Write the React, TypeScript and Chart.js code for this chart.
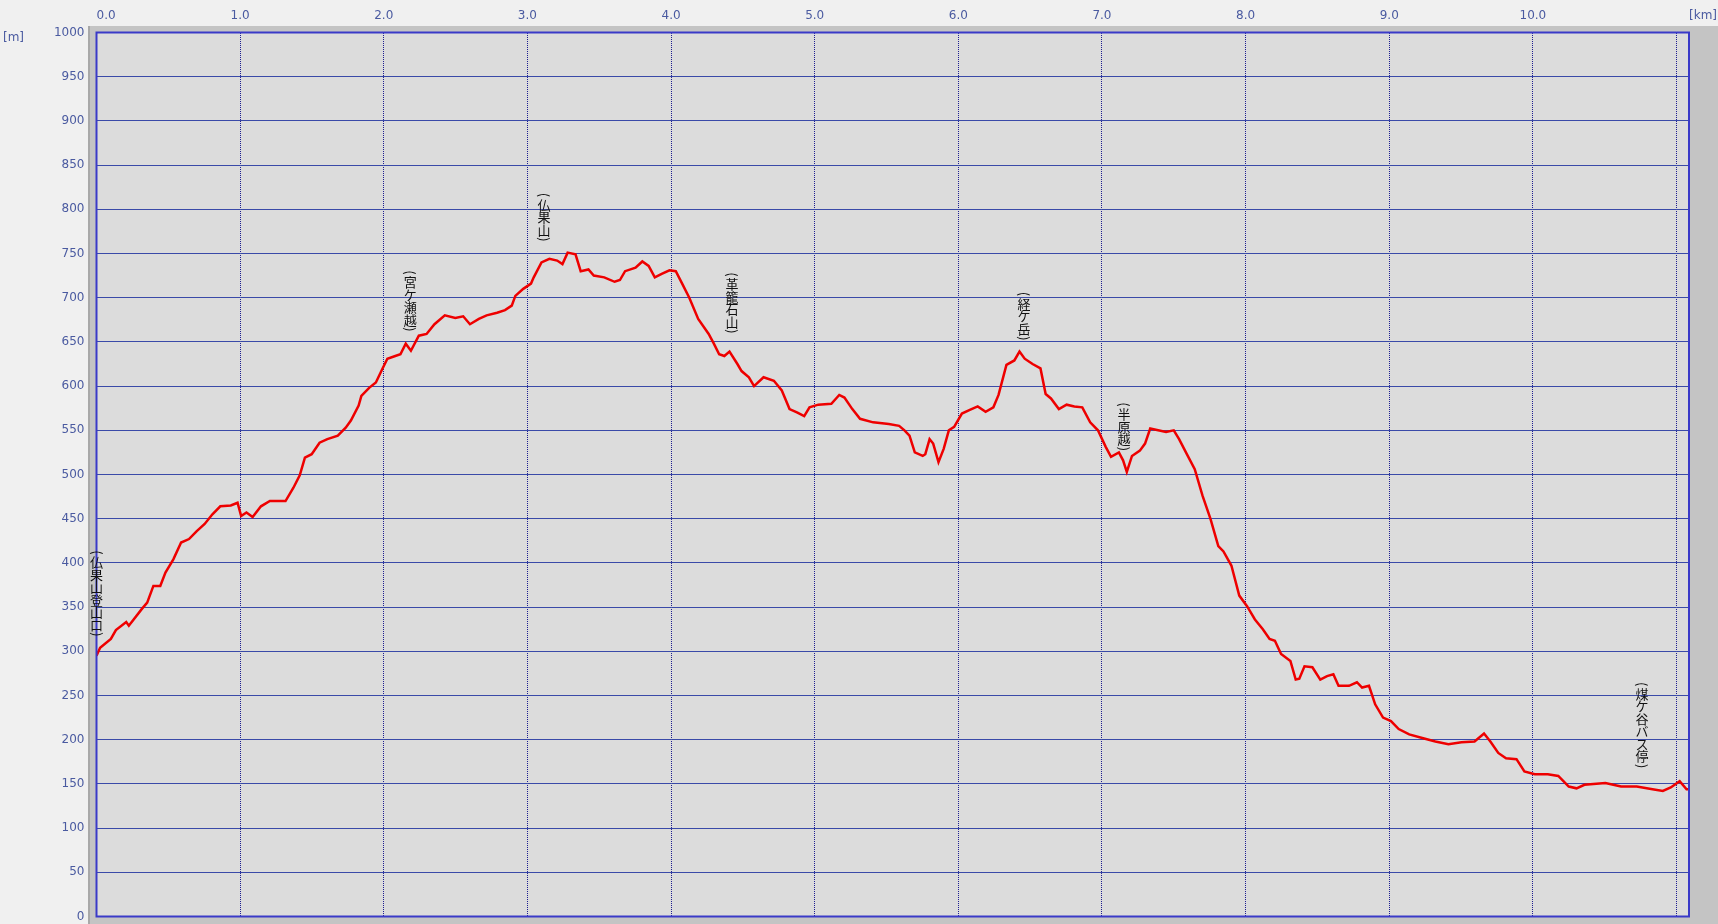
import React, { useEffect, useRef } from 'react';
import { Chart, registerables } from 'chart.js';

Chart.register(...registerables);

// Distance along the route [km]
const distanceKm = [
  0.0, 0.025, 0.1, 0.135, 0.207, 0.225, 0.316, 0.353, 0.396, 0.444, 0.48, 0.535, 0.589, 0.644, 0.698, 0.753,
  0.807, 0.862, 0.935, 0.982, 1.007, 1.044, 1.087, 1.145, 1.207, 1.316, 1.371, 1.415, 1.451, 1.498, 1.553,
  1.607, 1.68, 1.735, 1.771, 1.825, 1.844, 1.898, 1.945, 1.989, 2.025, 2.08, 2.116, 2.153, 2.189, 2.244,
  2.298, 2.353, 2.425, 2.498, 2.553, 2.6, 2.662, 2.716, 2.789, 2.844, 2.891, 2.916, 2.971, 3.025, 3.044,
  3.098, 3.153, 3.207, 3.244, 3.28, 3.335, 3.371, 3.425, 3.462, 3.535, 3.607, 3.644, 3.68, 3.753, 3.8,
  3.844, 3.887, 3.935, 3.989, 4.033, 4.08, 4.127, 4.189, 4.262, 4.298, 4.335, 4.371, 4.407, 4.462, 4.491,
  4.542, 4.578, 4.644, 4.716, 4.771, 4.825, 4.88, 4.927, 4.964, 5.025, 5.116, 5.171, 5.207, 5.262, 5.316,
  5.407, 5.516, 5.588, 5.625, 5.66, 5.697, 5.752, 5.77, 5.8, 5.825, 5.862, 5.898, 5.934, 5.971, 6.025,
  6.08, 6.135, 6.19, 6.244, 6.28, 6.335, 6.39, 6.426, 6.462, 6.517, 6.572, 6.608, 6.645, 6.7, 6.754,
  6.808, 6.863, 6.918, 6.972, 7.027, 7.063, 7.118, 7.147, 7.173, 7.209, 7.264, 7.3, 7.336, 7.391, 7.446,
  7.5, 7.537, 7.591, 7.646, 7.7, 7.755, 7.81, 7.846, 7.901, 7.956, 8.01, 8.065, 8.12, 8.167, 8.204,
  8.247, 8.312, 8.349, 8.374, 8.41, 8.465, 8.52, 8.567, 8.611, 8.647, 8.72, 8.775, 8.811, 8.859, 8.902,
  8.957, 9.012, 9.066, 9.139, 9.23, 9.321, 9.412, 9.503, 9.594, 9.66, 9.704, 9.759, 9.813, 9.886, 9.941,
  10.013, 10.104, 10.177, 10.25, 10.304, 10.359, 10.505, 10.614, 10.723, 10.833, 10.905, 10.96, 11.022,
  11.07, 11.087,
];

// Elevation [m]
const elevationM = [
  295, 304, 314, 324, 333, 329, 348, 355, 374, 374, 389, 404, 423, 427, 436, 444,
  455, 464, 465, 468, 453, 457, 452, 464, 470, 470, 485, 499, 519, 523, 536,
  540, 544, 553, 561, 578, 589, 598, 604, 619, 631, 634, 636, 648, 640, 657,
  659, 670, 680, 677, 679, 670, 676, 680, 683, 686, 691, 702, 710, 716, 723,
  740, 744, 742, 738, 751, 749, 730, 732, 725, 723, 718, 720, 730, 734, 741,
  736, 723, 727, 731, 730, 715, 700, 676, 659, 648, 636, 634, 639, 625, 617,
  610, 600, 610, 606, 595, 574, 570, 566, 576, 579, 580, 590, 587, 574, 563,
  559, 557, 555, 550, 544, 525, 521, 523, 540, 535, 514, 529, 550, 554, 569,
  573, 577, 571, 576, 590, 624, 629, 639, 631, 625, 620, 591, 586, 574, 579,
  577, 576, 559, 550, 531, 520, 525, 516, 503, 521, 527, 535, 552, 550, 548,
  550, 540, 523, 506, 476, 450, 419, 413, 397, 363, 351, 336, 325, 314, 312,
  297, 289, 268, 269, 283, 282, 268, 272, 274, 261, 261, 265, 259, 261, 240,
  225, 221, 212, 206, 202, 198, 195, 197, 198, 207, 198, 185, 179, 178, 164,
  161, 161, 159, 147, 145, 149, 151, 147, 147, 144, 142, 146, 153,
  144, 144,
];

const xTickValues = [0, 1, 2, 3, 4, 5, 6, 7, 8, 9, 10, 11];
const xMax = 11.087;
const yMin = 0;
const yMax = 1000;
const yStep = 50;
const xUnit = '[km]';
const yUnit = '[m]';

// Waypoint annotations (vertical text)
const labelNames = ['(仏果山登山口)', '(宮ケ瀬越)', '(仏果山)', '(革籠石山)', '(経ケ岳)', '(半原越)', '(煤ケ谷バス停)'];
const labelKm = [0.0, 2.185, 3.115, 4.424, 6.457, 7.153, 10.76];
const labelBaseM = [315, 660, 762, 658, 650, 525, 166];

const TICK_COLOR = '#4a5aa0';
const TICK_FONT = { family: '"DejaVu Sans", Verdana, sans-serif', size: 12 };

export default function App() {
  const canvasRef = useRef<HTMLCanvasElement>(null);

  useEffect(() => {
    document.body.style.margin = '0';
    const canvas = canvasRef.current;
    if (!canvas) return;

    const framePlugin = {
      id: 'frame',
      beforeDraw(chart: any) {
        const { ctx, chartArea: a, width, height } = chart;
        ctx.save();
        ctx.fillStyle = '#f0f0f0';
        ctx.fillRect(0, 0, width, height);
        ctx.fillStyle = '#c4c4c4';
        ctx.fillRect(88, 26, width - 88, height - 26);
        ctx.fillStyle = '#a8a8a8';
        ctx.fillRect(88, 26, 2, height - 26);
        ctx.fillStyle = '#dcdcdc';
        ctx.fillRect(a.left, a.top, a.right - a.left, a.bottom - a.top);
        ctx.restore();
      },
      afterDatasetsDraw(chart: any) {
        const { ctx, chartArea: a, scales, width } = chart;
        ctx.save();
        ctx.strokeStyle = '#3a3ac8';
        ctx.lineWidth = 2;
        ctx.strokeRect(a.left, a.top, a.right - a.left, a.bottom - a.top);

        // vertical annotations
        ctx.fillStyle = '#111111';
        ctx.font = '13px "Noto Sans CJK JP", sans-serif';
        ctx.textAlign = 'center';
        ctx.textBaseline = 'middle';
        const isParen = (c: string) => c === '(' || c === ')' || c === '（' || c === '）';
        labelNames.forEach((name, i) => {
          const cx = scales.x.getPixelForValue(labelKm[i]);
          const bottom = scales.y.getPixelForValue(labelBaseM[i]);
          const chars = Array.from(name);
          const pitch = (c: string) => (isParen(c) ? 7 : 12.5);
          const total = chars.reduce((s, c) => s + pitch(c), 0);
          let y = bottom - total;
          chars.forEach((c) => {
            const h = pitch(c);
            if (isParen(c)) {
              ctx.save();
              ctx.translate(cx, y + h / 2);
              ctx.rotate(Math.PI / 2);
              ctx.fillText(c, 0, 0);
              ctx.restore();
            } else {
              ctx.fillText(c, cx, y + h / 2);
            }
            y += h;
          });
        });

        // unit labels
        ctx.fillStyle = TICK_COLOR;
        ctx.font = '12px "DejaVu Sans", Verdana, sans-serif';
        ctx.textBaseline = 'middle';
        ctx.textAlign = 'left';
        ctx.fillText(yUnit, 3, 37.5);
        ctx.textAlign = 'right';
        ctx.fillText(xUnit, width - 1, 15.7);
        ctx.restore();
      },
    };

    const chart = new Chart(canvas, {
      type: 'line',
      data: {
        datasets: [
          {
            data: distanceKm.map((x, i) => ({ x, y: elevationM[i] })),
            borderColor: '#ee0000',
            borderWidth: 2.5,
            pointRadius: 0,
            tension: 0,
            fill: false,
          },
        ],
      },
      options: {
        responsive: false,
        animation: false,
        devicePixelRatio: 1,
        layout: { padding: { left: 0, top: 0, right: 29, bottom: 7.5 } },
        plugins: { legend: { display: false }, tooltip: { enabled: false } },
        scales: {
          x: {
            type: 'linear',
            position: 'top',
            min: 0,
            max: xMax,
            afterBuildTicks: (scale: any) => {
              scale.ticks = xTickValues.map((v) => ({ value: v }));
            },
            afterFit: (scale: any) => {
              scale.height = 32.5;
              scale.paddingLeft = 0;
              scale.paddingRight = 0;
              scale.paddingTop = 0;
              scale.paddingBottom = 0;
            },
            grid: { color: '#1c1c90', lineWidth: 1, drawTicks: false },
            border: { display: false, dash: [1, 1] },
            ticks: {
              autoSkip: false,
              maxRotation: 0,
              align: 'inner',
              padding: 9,
              color: TICK_COLOR,
              font: TICK_FONT,
              callback: (v: any) => (Number(v) === 11 ? '' : Number(v).toFixed(1)),
            },
          },
          y: {
            type: 'linear',
            min: yMin,
            max: yMax,
            afterFit: (scale: any) => {
              scale.width = 96.5;
              scale.paddingLeft = 0;
              scale.paddingRight = 0;
              scale.paddingTop = 0;
              scale.paddingBottom = 0;
            },
            grid: { color: '#3a4aa8', lineWidth: 1, drawTicks: false },
            border: { display: false },
            ticks: {
              stepSize: yStep,
              padding: 12,
              color: TICK_COLOR,
              font: TICK_FONT,
              callback: (v: any) => String(v),
            },
          },
        },
      },
      plugins: [framePlugin],
    } as any);

    return () => chart.destroy();
  }, []);

  return (
    <div style={{ position: 'fixed', left: 0, top: 0, width: 1718, height: 924, background: '#f0f0f0' }}>
      <canvas ref={canvasRef} width={1718} height={924} style={{ display: 'block', width: 1718, height: 924 }} />
    </div>
  );
}
